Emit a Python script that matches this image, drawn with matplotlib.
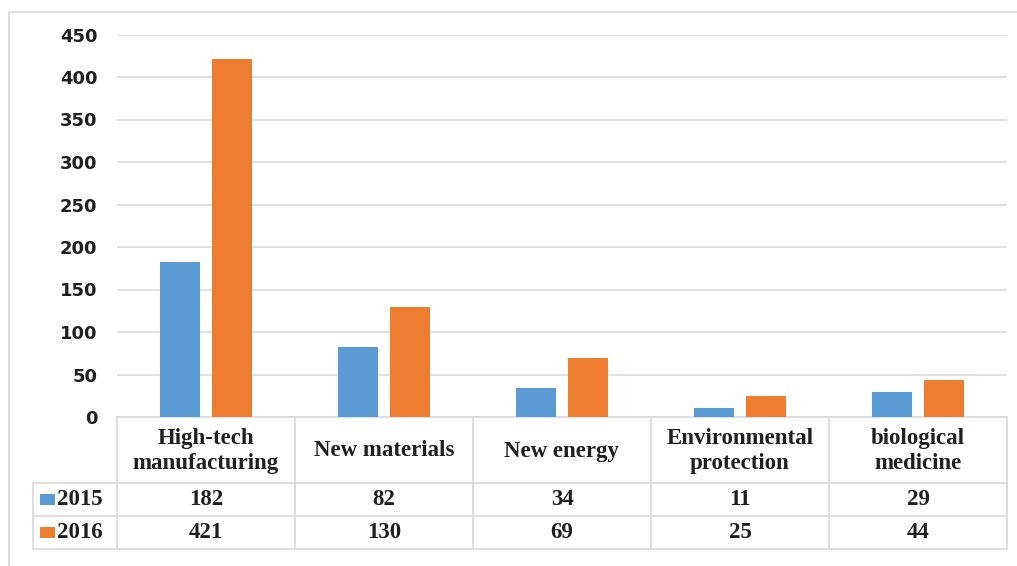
import matplotlib
matplotlib.use("Agg")
import matplotlib.pyplot as plt
from matplotlib.patches import Rectangle
from matplotlib.lines import Line2D

# data
categories = ["High-tech\nmanufacturing", "New materials", "New energy",
              "Environmental\nprotection", "biological\nmedicine"]
series_names = ["2015", "2016"]
values_2015 = [182, 82, 34, 11, 29]
values_2016 = [421, 130, 69, 25, 44]
yticks = [0, 50, 100, 150, 200, 250, 300, 350, 400, 450]

BLUE = "#5B9BD5"
ORANGE = "#ED7D31"
GRID = "#D9D9D9"
TEXT = "#1F1F1F"

W, H = 1017, 566
fig = plt.figure(figsize=(W / 100, H / 100), dpi=100)


def fx(px):
    return px / W


def fy(py):
    return 1 - py / H


# outer chart border
fig.patches.append(Rectangle((fx(9), fy(580)), fx(1030) - fx(9), fy(12) - fy(580),
                             transform=fig.transFigure, fill=False,
                             edgecolor=GRID, linewidth=1.2))

left, right, top, base = 117, 1007, 34.5, 417
ax = fig.add_axes([fx(left), fy(base), fx(right) - fx(left), fy(top) - fy(base)])

n = len(categories)
x = list(range(n))
bw = 0.225
off = 0.146
ax.bar([i - off for i in x], values_2015, width=bw, color=BLUE, zorder=3)
ax.bar([i + off for i in x], values_2016, width=bw, color=ORANGE, zorder=3)

ax.set_xlim(-0.5, n - 0.5)
ax.set_ylim(0, 450)
ax.set_yticks(yticks)
ax.set_yticklabels([str(v) for v in yticks], fontsize=13, fontweight="bold",
                   color=TEXT, family="DejaVu Sans")
ax.set_xticks([])
ax.tick_params(axis="y", length=0, pad=14)
ax.yaxis.grid(True, color=GRID, linewidth=1.1, zorder=0)
for s in ax.spines.values():
    s.set_visible(False)
ax.spines["bottom"].set_visible(True)
ax.spines["bottom"].set_color(GRID)
ax.spines["bottom"].set_linewidth(1.2)

# data table under the axis
col_w = (right - left) / n
row_lines = [483, 516, 549]
lab_left = 33


def hline(y, x0, x1):
    fig.lines.append(Line2D([fx(x0), fx(x1)], [fy(y), fy(y)], transform=fig.transFigure,
                            color=GRID, linewidth=1.2))


def vline(xp, y0, y1):
    fig.lines.append(Line2D([fx(xp), fx(xp)], [fy(y0), fy(y1)], transform=fig.transFigure,
                            color=GRID, linewidth=1.2))


for y in row_lines:
    hline(y, lab_left, right)
for i in range(n + 1):
    vline(left + i * col_w, base, row_lines[-1])
vline(lab_left, row_lines[0], row_lines[-1])

tfont = dict(family="Liberation Serif", fontweight="bold", fontsize=16.5, color=TEXT)
for i, cat in enumerate(categories):
    cx = left + (i + 0.5) * col_w
    fig.text(fx(cx), fy((base + row_lines[0]) / 2 + 1), cat, ha="center", va="center",
             linespacing=1.2, **tfont)
    fig.text(fx(cx), fy((row_lines[0] + row_lines[1]) / 2), str(values_2015[i]),
             ha="center", va="center", **tfont)
    fig.text(fx(cx), fy((row_lines[1] + row_lines[2]) / 2), str(values_2016[i]),
             ha="center", va="center", **tfont)

for r, (name, col) in enumerate(zip(series_names, [BLUE, ORANGE])):
    cy = (row_lines[r] + row_lines[r + 1]) / 2
    fig.patches.append(Rectangle((fx(40), fy(cy + 5.5)), fx(55) - fx(40), fy(cy - 5.5) - fy(cy + 5.5),
                                 transform=fig.transFigure, facecolor=col, edgecolor="none"))
    fig.text(fx(57), fy(cy), name, ha="left", va="center", **tfont)

fig.savefig("out.png", dpi=100)
